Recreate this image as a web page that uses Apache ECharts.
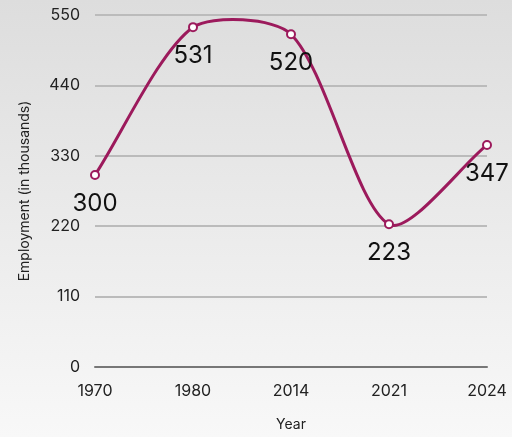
<!DOCTYPE html>
<html>
<head>
<meta charset="utf-8">
<script src="https://cdn.jsdelivr.net/npm/echarts@6/dist/echarts.min.js"></script>
<style>
  html, body { margin: 0; padding: 0; }
  #chart { width: 512px; height: 437px; }
</style>
</head>
<body>
<div id="chart"></div>
<script>
// data
const years = ["1970", "1980", "2014", "2021", "2024"];
const employment = [300, 531, 520, 223, 347];
const yTicks = { min: 0, max: 550, interval: 110 };

const lineColor = "#9c1a5c";
const font = "Inter, 'Noto Sans', sans-serif";
const tension = 0.27;

// draws the curve in one go (cardinal-like spline, control points kept in the grid)
function renderCurve(params, api) {
  if (params.dataIndex !== 0) return null;
  const box = params.coordSys;
  const pts = employment.map((v, i) => api.coord([i, v]));
  const clampY = (y) => Math.max(box.y, Math.min(box.y + box.height, y));
  const cps = pts.map((p, i) => {
    const prev = pts[i - 1] || p;
    const next = pts[i + 1] || p;
    const d01 = Math.hypot(p[0] - prev[0], p[1] - prev[1]);
    const d12 = Math.hypot(next[0] - p[0], next[1] - p[1]);
    const sum = d01 + d12 || 1;
    const fa = (tension * d01) / sum;
    const fb = (tension * d12) / sum;
    return {
      before: [p[0] - fa * (next[0] - prev[0]), clampY(p[1] - fa * (next[1] - prev[1]))],
      after: [p[0] + fb * (next[0] - prev[0]), clampY(p[1] + fb * (next[1] - prev[1]))],
    };
  });
  const children = [];
  for (let i = 0; i < pts.length - 1; i++) {
    children.push({
      type: "bezierCurve",
      shape: {
        x1: pts[i][0], y1: pts[i][1],
        x2: pts[i + 1][0], y2: pts[i + 1][1],
        cpx1: cps[i].after[0], cpy1: cps[i].after[1],
        cpx2: cps[i + 1].before[0], cpy2: cps[i + 1].before[1],
      },
      style: { stroke: lineColor, lineWidth: 3, fill: null },
    });
  }
  return { type: "group", children: children };
}

const myChart = echarts.init(document.getElementById("chart"));
myChart.setOption({
  backgroundColor: new echarts.graphic.LinearGradient(0, 0, 0, 1, [
    { offset: 0, color: "#dddddd" },
    { offset: 1, color: "#f8f8f8" },
  ]),
  textStyle: { fontFamily: font },
  grid: { left: 95, right: 25, top: 15, bottom: 70 },
  xAxis: {
    type: "category",
    data: years,
    boundaryGap: false,
    name: "Year",
    nameLocation: "middle",
    nameGap: 51,
    nameTextStyle: { color: "#222", fontSize: 14, fontFamily: font },
    axisLine: { lineStyle: { color: "#777", width: 2 } },
    axisTick: { show: false },
    axisLabel: { color: "#222", fontSize: 16, margin: 16, fontFamily: font },
  },
  yAxis: {
    type: "value",
    min: yTicks.min,
    max: yTicks.max,
    interval: yTicks.interval,
    name: "Employment (in thousands)",
    nameLocation: "middle",
    nameGap: 63,
    nameTextStyle: { color: "#222", fontSize: 14, fontFamily: font },
    axisLine: { show: false },
    axisTick: { show: false },
    axisLabel: { color: "#222", fontSize: 16, margin: 15, fontFamily: font },
    splitLine: { lineStyle: { color: "#bbbbbb", width: 2 } },
  },
  series: [
    {
      type: "custom",
      data: employment,
      renderItem: renderCurve,
      silent: true,
      z: 1,
    },
    {
      type: "line",
      data: employment,
      symbol: "emptyCircle",
      symbolSize: 8,
      z: 2,
      lineStyle: { width: 0, opacity: 0 },
      itemStyle: { color: lineColor, borderWidth: 2 },
      label: {
        show: true,
        position: "bottom",
        distance: 12,
        color: "#111",
        fontSize: 24,
        fontFamily: font,
      },
    },
  ],
});
</script>
</body>
</html>
